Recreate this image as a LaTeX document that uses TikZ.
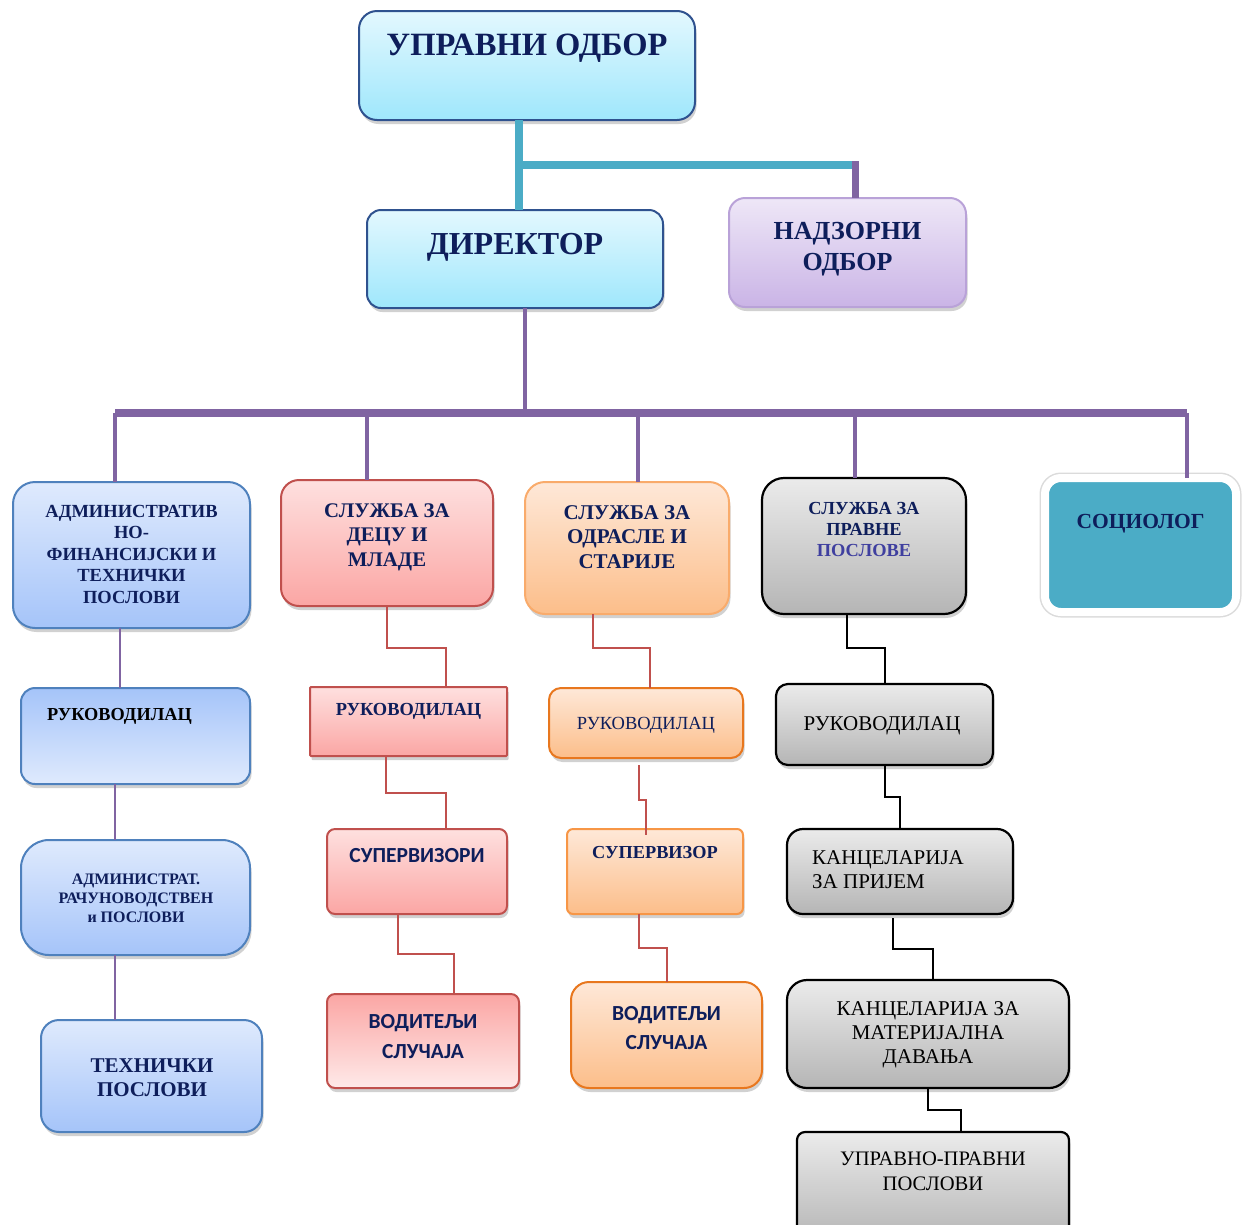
\documentclass[tikz,border=0pt]{standalone}
\usepackage{fontspec}
\setmainfont{Liberation Serif}
\newfontfamily\calfont{Carlito}
\usetikzlibrary{shadows,calc}
\definecolor{navy}{HTML}{0E1E5B}
\definecolor{legal}{HTML}{3F3F9F}
\definecolor{aqua}{HTML}{4BACC6}
\definecolor{purp}{HTML}{8064A2}
\definecolor{redl}{HTML}{C0504D}
\definecolor{cyTop}{HTML}{E3F8FE}
\definecolor{cyBot}{HTML}{9FE7FC}
\definecolor{cyBorder}{HTML}{2F528F}
\definecolor{lvTop}{HTML}{EEE7F7}
\definecolor{lvBot}{HTML}{CAB4E6}
\definecolor{lvBorder}{HTML}{B9A2D8}
\definecolor{blTop}{HTML}{DFEAFD}
\definecolor{blBot}{HTML}{A5C4F9}
\definecolor{blBorder}{HTML}{4F81BD}
\definecolor{rdTop}{HTML}{FEE0DF}
\definecolor{rdBot}{HTML}{FBA6A4}
\definecolor{orTop}{HTML}{FEE8D8}
\definecolor{orBot}{HTML}{FCBE8A}
\definecolor{orBorder}{HTML}{F79646}
\definecolor{orDark}{HTML}{E8771E}
\definecolor{gyTop}{HTML}{EBEBEB}
\definecolor{gyBot}{HTML}{B5B5B5}
\tikzset{
  box/.style={inner sep=0pt, outer sep=0pt, line width=2pt,
    drop shadow={shadow xshift=1.5pt, shadow yshift=-4pt, opacity=0.3, fill=black!60}},
  cybox/.style={box, draw=cyBorder, top color=cyTop, bottom color=cyBot},
  lvbox/.style={box, draw=lvBorder, top color=lvTop, bottom color=lvBot},
  blbox/.style={box, draw=blBorder, top color=blTop, bottom color=blBot},
  blboxr/.style={box, draw=blBorder, top color=blBot, bottom color=blTop},
  rdbox/.style={box, draw=redl, top color=rdTop, bottom color=rdBot},
  rdboxr/.style={box, draw=redl, top color=rdBot, bottom color=rdTop!70!white},
  orbox/.style={box, draw=orBorder, top color=orTop, bottom color=orBot},
  gybox/.style={box, draw=black, line width=2.2pt, top color=gyTop, bottom color=gyBot},
  txt/.style={inner sep=0pt, align=center, text=navy},
  aqline/.style={draw=aqua, line width=8pt},
  pbar/.style={draw=purp, line width=8pt},
  pdrop/.style={draw=purp, line width=4pt},
  pthin/.style={draw=purp, line width=1.5pt},
  rline/.style={draw=redl, line width=2pt},
  kline/.style={draw=black, line width=2pt},
}
\newcommand{\fsz}[2]{\fontsize{#1}{#2}\selectfont}
\begin{document}
\begin{tikzpicture}[x=1pt,y=-1pt]
\useasboundingbox (0,0) rectangle (1246,1224);

\coordinate (jt) at (519,165);
\coordinate (jn) at (855,165);
\coordinate (barL) at (115,413);
\coordinate (barR) at (1187,413);
\coordinate (jd) at (525,413);
\coordinate (d2) at (367,413);
\coordinate (d3) at (638,413);
\coordinate (d4) at (855,413);

% ---------------- boxes ----------------
\node[cybox, rounded corners=18pt, minimum width=336pt, minimum height=109pt] (title) at (527,65.5) {};
\node[cybox, rounded corners=14pt, minimum width=296pt, minimum height=98pt] (dir) at (515,259) {};
\node[lvbox, rounded corners=16pt, minimum width=237pt, minimum height=109pt] (nad) at (847.5,252.5) {};

\node[blbox, rounded corners=22pt, minimum width=237pt, minimum height=146pt] (adm) at (131.5,555) {};
\node[rdbox, rounded corners=18pt, minimum width=212pt, minimum height=126pt] (deca) at (387,543) {};
\node[orbox, draw=orBorder!80!white, rounded corners=20pt, minimum width=204pt, minimum height=132pt] (odr) at (627,548) {};
\node[gybox, rounded corners=22pt, minimum width=204pt, minimum height=136pt] (prav) at (864,546) {};
\node[inner sep=0pt, outer sep=0pt, draw=white, line width=8pt, fill=aqua, rounded corners=16pt,
      minimum width=191pt, minimum height=134pt,
      preaction={draw=black!14, line width=11pt},
      drop shadow={shadow xshift=1pt, shadow yshift=-3pt, opacity=0.2, fill=black!50}] (soc) at (1140.5,545) {};

\node[blboxr, rounded corners=14pt, minimum width=229pt, minimum height=96pt] (adm2) at (135.5,736) {};
\node[blbox, rounded corners=28pt, minimum width=229pt, minimum height=115pt] (adm3) at (135.5,897.5) {};
\node[blbox, rounded corners=18pt, minimum width=221pt, minimum height=112pt] (adm4) at (151.5,1076) {};

\node[rdbox, rounded corners=1pt, minimum width=197pt, minimum height=69pt] (r1) at (408.5,721.5) {};
\node[rdbox, rounded corners=8pt, minimum width=180pt, minimum height=85pt] (r2) at (417,871.5) {};
\node[rdboxr, rounded corners=8pt, minimum width=192pt, minimum height=94pt] (r3) at (423,1041) {};

\node[orbox, draw=orDark, rounded corners=12pt, minimum width=194pt, minimum height=70pt] (o1) at (646,723) {};
\node[orbox, rounded corners=6pt, minimum width=176pt, minimum height=85pt] (o2) at (655,871.5) {};
\node[orbox, draw=orDark, rounded corners=18pt, minimum width=191pt, minimum height=106pt] (o3) at (666.5,1035) {};

\node[gybox, rounded corners=12pt, minimum width=217pt, minimum height=81pt] (g1) at (884.5,724.5) {};
\node[gybox, rounded corners=16pt, minimum width=226pt, minimum height=85pt] (g2) at (900,871.5) {};
\node[gybox, rounded corners=20pt, minimum width=282pt, minimum height=108pt] (g3) at (928,1034) {};
\node[gybox, rounded corners=8pt, minimum width=272pt, minimum height=110pt] (g4) at (933,1187) {};

% ---------------- connectors ----------------
\draw[aqline] ([xshift=-8pt]title.south) -- ([xshift=-8pt]title.south |- dir.north);
\draw[aqline] ([xshift=-4pt]jt) -- (jn);
\draw[pbar, line width=7pt] ([yshift=4pt]jn) -- (jn |- nad.north);

\draw[pdrop] ([xshift=10pt]dir.south) -- (jd);
\draw[pbar] (barL) -- (barR);
\draw[pdrop] (barL) -- (barL |- adm.north);
\draw[pdrop] (d2) -- (d2 |- deca.north);
\draw[pdrop] (d3) -- (d3 |- odr.north);
\draw[pdrop] (d4) -- (d4 |- prav.north);
\draw[pdrop] (barR) -- (barR |- soc.north);

\draw[pthin] ([xshift=-11.5pt]adm.south) -- ([xshift=-11.5pt]adm.south |- adm2.north);
\draw[pthin] ([xshift=-20.5pt]adm2.south) -- ([xshift=-20.5pt]adm2.south |- adm3.north);
\draw[pthin] ([xshift=-20.5pt]adm3.south) -- ([xshift=-20.5pt]adm3.south |- adm4.north);

\draw[rline] (deca.south) -- ++(0,42) -| ([xshift=37.5pt]r1.north);
\draw[rline] ([xshift=-22.5pt]r1.south) -- ++(0,37) -| ([xshift=29pt]r2.north);
\draw[rline] ([xshift=-19pt]r2.south) -- ++(0,40) -| ([xshift=31pt]r3.north);

\draw[rline] ([xshift=-34pt]odr.south) -- ++(0,34) -| ([xshift=4pt]o1.north);
\draw[rline] ([xshift=-7pt,yshift=-7pt]o1.south) -- ++(0,35) -| ([xshift=-9pt,yshift=-6pt]o2.north);
\draw[rline] ([xshift=-16pt]o2.south) -- ++(0,34) -| (o3.north);

\draw[kline] ([xshift=-17pt]prav.south) -- ++(0,34) -| (g1.north);
\draw[kline] (g1.south) -- ++(0,32) -| (g2.north);
\draw[kline] ([xshift=-7pt,yshift=-4pt]g2.south) -- ++(0,31) -| ([xshift=5pt]g3.north);
\draw[kline] (g3.south) -- ++(0,22) -| ([xshift=28pt]g4.north);

% ---------------- texts ----------------
\node[txt, font=\fsz{32.5}{37}\bfseries] (tTitle) at (527,48) {УПРАВНИ ОДБОР};
\node[txt, font=\fsz{32}{37}\bfseries] (tDir) at (515,247) {ДИРЕКТОР};
\node[txt, font=\fsz{26}{31}\bfseries] (tNad) at (847.5,249) {НАДЗОРНИ\\ОДБОР};

\node[txt, font=\fsz{18.5}{21.5}\bfseries] (tAdm) at (131.5,554) {АДМИНИСТРАТИВ\\НО-\\ФИНАНСИЈСКИ И\\ТЕХНИЧКИ\\ПОСЛОВИ};
\node[txt, font=\fsz{20.8}{24.5}\bfseries] (tDeca) at (387,537) {СЛУЖБА ЗА\\ДЕЦУ И\\МЛАДЕ};
\node[txt, font=\fsz{21}{24.5}\bfseries] (tOdr) at (627,537) {СЛУЖБА ЗА\\ОДРАСЛЕ И\\СТАРИЈЕ};
\node[txt, font=\fsz{18.4}{21}\bfseries] (tPrav) at (864,529) {СЛУЖБА ЗА\\ПРАВНЕ\\\textcolor{legal}{ПОСЛОВЕ}};
\node[txt, font=\fsz{21.5}{25}\bfseries] (tSoc) at (1140.5,524) {СОЦИОЛОГ};

\node[txt, text=black, anchor=west, font=\fsz{18.3}{22}\bfseries] (tAdm2) at (47,716) {РУКОВОДИЛАЦ};
\node[txt, font=\fsz{16}{19}\bfseries] (tAdm3) at (136,898) {АДМИНИСТРАТ.\\РАЧУНОВОДСТВЕН\\и ПОСЛОВИ};
\node[txt, font=\fsz{21}{24}\bfseries] (tAdm4) at (152,1078) {ТЕХНИЧКИ\\ПОСЛОВИ};

\node[txt, font=\fsz{18.4}{22}\bfseries] (tR1) at (408.5,711) {РУКОВОДИЛАЦ};
\node[txt, font=\calfont\fsz{21.5}{25}\bfseries] (tR2) at (417,856) {СУПЕРВИЗОРИ};
\node[txt, font=\calfont\fsz{21.5}{30}\bfseries] (tR3) at (423,1037) {ВОДИТЕЉИ\\СЛУЧАЈА};

\node[txt, font=\fsz{18.5}{22}] (tO1) at (646,725) {РУКОВОДИЛАЦ};
\node[txt, font=\fsz{18.3}{22}\bfseries] (tO2) at (655,853) {СУПЕРВИЗОР};
\node[txt, font=\calfont\fsz{21.5}{29}\bfseries] (tO3) at (666.5,1028) {ВОДИТЕЉИ\\СЛУЧАЈА};

\node[txt, text=black, font=\fsz{21}{24}] (tG1) at (882,726) {РУКОВОДИЛАЦ};
\node[txt, text=black, align=left, anchor=west, font=\fsz{21}{24}] (tG2) at (812,870) {КАНЦЕЛАРИЈА\\ЗА ПРИЈЕМ};
\node[txt, text=black, font=\fsz{21}{24}] (tG3) at (928,1035) {КАНЦЕЛАРИЈА ЗА\\МАТЕРИЈАЛНА\\ДАВАЊА};
\node[txt, text=black, font=\fsz{20.6}{25}] (tG4) at (933,1171) {УПРАВНО-ПРАВНИ\\ПОСЛОВИ};
\end{tikzpicture}
\end{document}
